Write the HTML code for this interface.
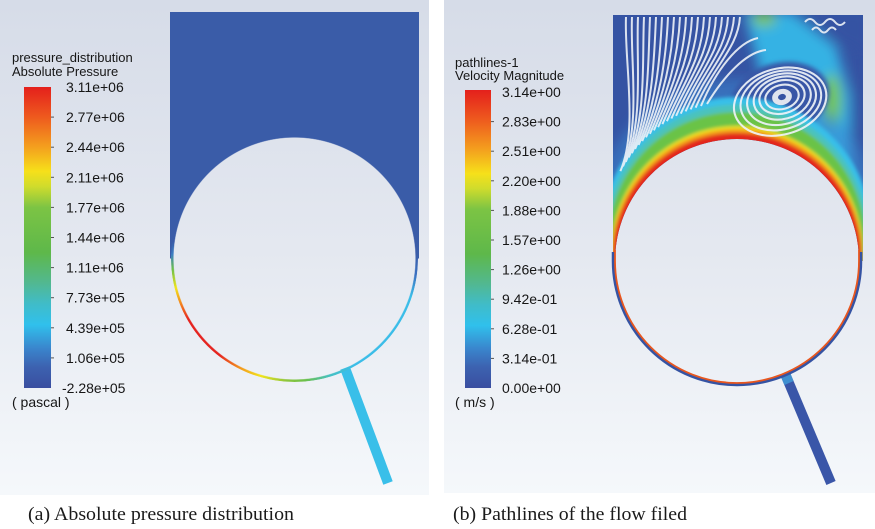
<!DOCTYPE html>
<html>
<head>
<meta charset="utf-8">
<style>
  html,body{margin:0;padding:0;background:#ffffff;}
  body{width:875px;height:529px;position:relative;overflow:hidden;}
  svg{position:absolute;left:0;top:0;}
  .ring{
    position:absolute;left:171px;top:135px;width:247px;height:247px;border-radius:50%;
    background:conic-gradient(from 0deg,
      #3a5ca8 0deg,#3a5ca8 88deg,#3b72c2 98deg,#3bbde8 108deg,#3bbde8 150deg,
      #45c0c4 163deg,#6cc04a 175deg,#8ec63c 184deg,#f2e41c 196deg,#f39a1e 206deg,
      #e52420 218deg,#e52420 240deg,#f3801e 248deg,#f2e41c 256deg,#6cc04a 265deg,
      #3b7fc4 272deg,#3a5ca8 278deg,#3a5ca8 360deg);
    -webkit-mask-image:radial-gradient(circle at center, transparent 120.6px, #000 121.4px);
    mask-image:radial-gradient(circle at center, transparent 120.6px, #000 121.4px);
  }
</style>
</head>
<body>
<svg width="875" height="529" viewBox="0 0 875 529" xmlns="http://www.w3.org/2000/svg">
  <defs>
    <linearGradient id="bg" x1="0" y1="0" x2="0" y2="495" gradientUnits="userSpaceOnUse">
      <stop offset="0" stop-color="#d6dce8"/>
      <stop offset="0.5" stop-color="#e4e8f0"/>
      <stop offset="1" stop-color="#f5f8fb"/>
    </linearGradient>
    <linearGradient id="cb" x1="0" y1="0" x2="0" y2="1">
      <stop offset="0" stop-color="#e4201c"/>
      <stop offset="0.10" stop-color="#ee5a1e"/>
      <stop offset="0.20" stop-color="#f4a01e"/>
      <stop offset="0.28" stop-color="#f6e01a"/>
      <stop offset="0.33" stop-color="#d0dc2c"/>
      <stop offset="0.40" stop-color="#7cc444"/>
      <stop offset="0.55" stop-color="#5eb84a"/>
      <stop offset="0.65" stop-color="#52b890"/>
      <stop offset="0.72" stop-color="#40bcc8"/>
      <stop offset="0.79" stop-color="#30c0ec"/>
      <stop offset="0.87" stop-color="#3a84cc"/>
      <stop offset="0.93" stop-color="#3c62b0"/>
      <stop offset="1" stop-color="#3a4ea0"/>
    </linearGradient>
    <clipPath id="rdom">
      <path d="M613,15 H863 V261 H859 A122,122 0 0 0 615,261 H613 Z"/>
    </clipPath>
    <filter id="b8" filterUnits="userSpaceOnUse" x="590" y="-10" width="300" height="300">
      <feGaussianBlur stdDeviation="6"/>
    </filter>
    <filter id="b3" filterUnits="userSpaceOnUse" x="590" y="60" width="300" height="230">
      <feGaussianBlur stdDeviation="1.8"/>
    </filter>
    <filter id="b2" filterUnits="userSpaceOnUse" x="700" y="40" width="160" height="120">
      <feGaussianBlur stdDeviation="2.5"/>
    </filter>
  </defs>

  <!-- panels -->
  <rect x="0" y="0" width="429" height="495" fill="url(#bg)"/>
  <rect x="444" y="0" width="431" height="493" fill="url(#bg)"/>

  <!-- LEFT: domain -->
  <path d="M170,12 H419 V258.5 H417.5 A123,123 0 0 0 171.5,258.5 H170 Z" fill="#3a5ca8"/>
  <line x1="345" y1="368" x2="388" y2="483" stroke="#39bfe9" stroke-width="10"/>

  <!-- LEFT: colorbar -->
  <rect x="24" y="87" width="27" height="301" fill="url(#cb)"/>
  <g stroke="#555" stroke-width="1">
    <line x1="51" y1="117.1" x2="54" y2="117.1"/><line x1="51" y1="147.2" x2="54" y2="147.2"/>
    <line x1="51" y1="177.3" x2="54" y2="177.3"/><line x1="51" y1="207.4" x2="54" y2="207.4"/>
    <line x1="51" y1="237.5" x2="54" y2="237.5"/><line x1="51" y1="267.6" x2="54" y2="267.6"/>
    <line x1="51" y1="297.7" x2="54" y2="297.7"/><line x1="51" y1="327.8" x2="54" y2="327.8"/>
    <line x1="51" y1="357.9" x2="54" y2="357.9"/>
  </g>
  <g font-family="'Liberation Sans', Arial, sans-serif" fill="#161616">
    <text x="12" y="62" font-size="13">pressure_distribution</text>
    <text x="12" y="76" font-size="13">Absolute Pressure</text>
    <g font-size="14">
      <text x="66" y="92">3.11e+06</text>
      <text x="66" y="122.1">2.77e+06</text>
      <text x="66" y="152.2">2.44e+06</text>
      <text x="66" y="182.3">2.11e+06</text>
      <text x="66" y="212.4">1.77e+06</text>
      <text x="66" y="242.5">1.44e+06</text>
      <text x="66" y="272.6">1.11e+06</text>
      <text x="66" y="302.7">7.73e+05</text>
      <text x="66" y="332.8">4.39e+05</text>
      <text x="66" y="362.9">1.06e+05</text>
      <text x="62" y="393">-2.28e+05</text>
      <text x="12" y="407">( pascal )</text>
    </g>
  </g>

  <!-- RIGHT: colorbar -->
  <rect x="465" y="90" width="26" height="298" fill="url(#cb)"/>
  <g stroke="#555" stroke-width="1">
    <line x1="491" y1="121.6" x2="494" y2="121.6"/><line x1="491" y1="151.2" x2="494" y2="151.2"/>
    <line x1="491" y1="180.8" x2="494" y2="180.8"/><line x1="491" y1="210.4" x2="494" y2="210.4"/>
    <line x1="491" y1="240" x2="494" y2="240"/><line x1="491" y1="269.6" x2="494" y2="269.6"/>
    <line x1="491" y1="299.2" x2="494" y2="299.2"/><line x1="491" y1="328.8" x2="494" y2="328.8"/>
    <line x1="491" y1="358.4" x2="494" y2="358.4"/>
  </g>
  <g font-family="'Liberation Sans', Arial, sans-serif" fill="#161616">
    <text x="455" y="67" font-size="13">pathlines-1</text>
    <text x="455" y="80" font-size="13">Velocity Magnitude</text>
    <g font-size="14">
      <text x="502" y="97">3.14e+00</text>
      <text x="502" y="126.6">2.83e+00</text>
      <text x="502" y="156.2">2.51e+00</text>
      <text x="502" y="185.8">2.20e+00</text>
      <text x="502" y="215.4">1.88e+00</text>
      <text x="502" y="245">1.57e+00</text>
      <text x="502" y="274.6">1.26e+00</text>
      <text x="502" y="304.2">9.42e-01</text>
      <text x="502" y="333.8">6.28e-01</text>
      <text x="502" y="363.4">3.14e-01</text>
      <text x="502" y="393">0.00e+00</text>
      <text x="455" y="407">( m/s )</text>
    </g>
  </g>

  <!-- RIGHT: domain -->
  <line x1="786" y1="376" x2="831" y2="483" stroke="#3a56a8" stroke-width="10"/>
  <line x1="786" y1="376" x2="789" y2="383" stroke="#3f8fd0" stroke-width="10"/>
  <g clip-path="url(#rdom)">
    <rect x="613" y="15" width="250" height="246" fill="#3553a3"/>
    <g filter="url(#b8)">
      <polygon points="744,12 792,12 836,46 850,95 852,215 830,160 800,125 760,72" fill="#36b2e4"/>
      <ellipse cx="832" cy="100" rx="9" ry="26" fill="#74c54a"/>
      <ellipse cx="764" cy="19" rx="12" ry="7" fill="#7cc74a"/>
      <rect x="855" y="20" width="12" height="160" fill="#3553a3"/>
      <polygon points="800,8 870,8 870,55 842,45" fill="#3553a3"/>
      <circle cx="737" cy="222.3" r="143.3" fill="#3a86cf" opacity="0.55"/>
    </g>
    <ellipse cx="780" cy="99" rx="50" ry="36" transform="rotate(-15 780 99)" fill="#3756a6" filter="url(#b2)"/>
    <g filter="url(#b3)">
      <circle cx="737" cy="231.3" r="134.3" fill="#38bfe9"/>
      <circle cx="737" cy="236" r="131.5" fill="#4cc3bc"/>
      <circle cx="737" cy="240.6" r="128.6" fill="#6ac346"/>
      <circle cx="737" cy="251.8" r="125.8" fill="#f2e41e"/>
      <circle cx="737" cy="254.2" r="125.2" fill="#f39a1e"/>
      <circle cx="737" cy="257.3" r="124.3" fill="#e3261e"/>
    </g>
    <!-- streamlines -->
    <g fill="none" stroke="#eef2f8" stroke-width="2" opacity="0.9">
      <path d="M626,17 C624,60 638.4,129.1 620.4,171.1"/>
      <path d="M632,17 C630,60 641,124.4 623,166.4"/>
      <path d="M638,17 C636,60 643.8,119.9 625.8,161.9"/>
      <path d="M644,17 C642,60 646.7,115.5 628.7,157.5"/>
      <path d="M650,17 C648,60 649.9,111.2 631.9,153.2"/>
      <path d="M656,17 C654,60 653.1,107 635.1,149"/>
      <path d="M662,17 C660,60 656.6,103 638.6,145"/>
      <path d="M668,17 C666,60 660.2,99.1 642.2,141.1"/>
      <path d="M674,17 C672,60 664,95.4 646,137.4"/>
      <path d="M680,17 C678,60 667.9,91.8 649.9,133.8"/>
      <path d="M686,17 C684,60 671.9,88.4 653.9,130.4"/>
      <path d="M692,17 C690,60 676.1,85.2 658.1,127.2"/>
      <path d="M698,17 C696,60 680.4,82.1 662.4,124.1"/>
      <path d="M704,17 C702,60 684.9,79.2 666.9,121.2"/>
      <path d="M710,17 C708,58 689.4,76.5 671.4,118.5"/>
      <path d="M716,17 C714,56 694.1,73.9 676.1,115.9"/>
      <path d="M722,17 C720,54 698.8,71.6 680.8,113.6"/>
      <path d="M728,17 C726,52 703.6,69.4 685.6,111.4"/>
      <path d="M734,17 C732,50 708.6,67.4 690.6,109.4"/>
      <path d="M740,17 C738,48 713.6,65.7 695.6,107.7"/>
      <path d="M758,38 C738,42 716,70 701,106"/>
      <path d="M766,50 C746,52 724,76 707,104"/>
      <path d="M805,22 q5,-6 10,0 t10,0 t10,0 t10,0"/>
      <path d="M812,30 q4,-5 8,0 t8,0 t8,0"/>
    </g>
    <!-- vortex -->
    <g transform="rotate(-15 782 97)">
      <ellipse cx="782" cy="97" rx="10" ry="8" fill="#dfe4ee"/>
      <ellipse cx="782" cy="97" rx="4" ry="3" fill="#3553a3"/>
      <g fill="none" stroke="#eef2f8" stroke-width="2.1" opacity="0.92">
        <ellipse cx="782" cy="97" rx="17" ry="12"/>
        <ellipse cx="782" cy="97" rx="23" ry="16.5"/>
        <ellipse cx="782" cy="98" rx="29" ry="21"/>
        <ellipse cx="781" cy="99" rx="35" ry="25"/>
        <ellipse cx="780" cy="100" rx="41" ry="29"/>
        <ellipse cx="779" cy="101" rx="47" ry="33"/>
      </g>
    </g>
  </g>
  <!-- lower ring around right circle -->
  <path d="M613.5,252 L613.5,261 A123.5,123.5 0 0 0 860.5,261 L860.5,252" fill="none" stroke="#3553a3" stroke-width="3.5"/>
  <path d="M615,250 L615,261 A122,122 0 0 0 859,261 L859,250" fill="none" stroke="#e8561e" stroke-width="1.8"/>

  <!-- captions -->
  <g font-family="'Liberation Serif', 'Times New Roman', serif" fill="#1a1a1a" font-size="19">
    <text x="28" y="520" textLength="266" lengthAdjust="spacingAndGlyphs">(a) Absolute pressure distribution</text>
    <text x="453" y="520" textLength="234" lengthAdjust="spacingAndGlyphs">(b) Pathlines of the flow filed</text>
  </g>
</svg>
<div class="ring"></div>
</body>
</html>
